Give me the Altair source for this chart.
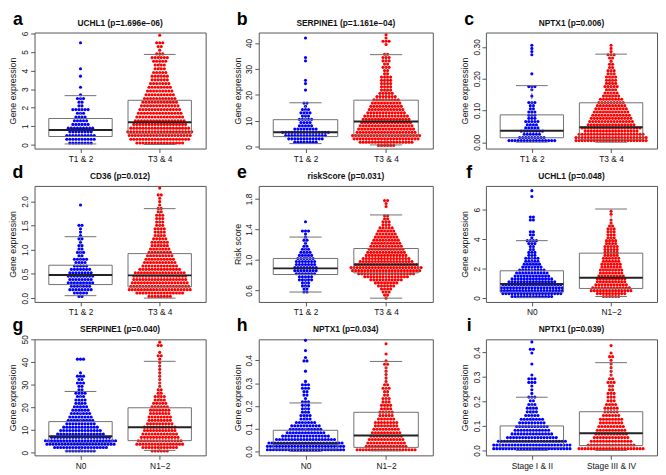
import altair as alt
import pandas as pd

FONT = "Liberation Sans"
BLUE = "#0000FF"
RED = "#FF0000"

# ---------------- panel descriptors ----------------
letters = ["a", "b", "c", "d", "e", "f", "g", "h", "i"]
titles = ["UCHL1 (p=1.696e\u221206)", "SERPINE1 (p=1.161e\u221204)", "NPTX1 (p=0.006)",
          "CD36 (p=0.012)", "riskScore (p=0.031)", "UCHL1 (p=0.048)",
          "SERPINE1 (p=0.040)", "NPTX1 (p=0.034)", "NPTX1 (p=0.039)"]
y_titles = ["Gene expression"] * 4 + ["Risk score"] + ["Gene expression"] * 4
group_names = [("T1 & 2", "T3 & 4")] * 5 + [("N0", "N1\u22122")] * 3 + [("Stage I & II", "Stage III & IV")]
y_domains = [[-0.2, 6.05], [-0.6, 44], [-0.02, 0.345], [-0.08, 2.32], [0.45, 1.97],
             [-0.27, 7.62], [-1.2, 50], [-0.017, 0.492], [-0.02, 0.453]]
y_ticks = [[0, 1, 2, 3, 4, 5, 6], [0, 10, 20, 30, 40], [0, 0.1, 0.2, 0.3], [0, 0.5, 1, 1.5, 2],
           [0.6, 1.0, 1.4, 1.8], [0, 2, 4, 6], [0, 10, 20, 30, 40, 50],
           [0, 0.1, 0.2, 0.3, 0.4], [0, 0.1, 0.2, 0.3, 0.4]]
y_formats = ["d", "d", ".2f", ".1f", ".1f", "d", "d", ".1f", ".1f"]

# value bins (first bin centre, bin step) for the swarm rows
bin_start = [0.1, 0.625, 0.005, 0.035, 0.50, 0.1, 0.75, 0.0075, 0.0075]
bin_step = [0.2, 1.25, 0.01, 0.07, 0.04, 0.2, 1.5, 0.015, 0.015]

# number of dots in each value bin (group 1 = blue, group 2 = red)
a_g1 = [8, 10, 10, 8, 9, 6, 5, 4, 3, 6, 2, 2, 3, 1, 0, 1, 0, 0, 1, 0, 1, 0, 0, 0, 0, 0, 0, 1]
a_g2 = [16, 20, 21, 22, 20, 18, 17, 16, 15, 14, 13, 12, 11, 10, 9, 8, 7, 6, 6, 5, 4, 4, 5, 6, 3, 1, 2, 3, 0, 1]
b_g1 = [0, 8, 12, 14, 16, 8, 5, 4, 5, 3, 4, 3, 1, 2, 0, 0, 0, 1, 0, 1, 1, 0, 0, 0, 0, 0, 1, 1, 0, 0, 0, 0, 0, 1]
b_g2 = [6, 18, 22, 23, 20, 19, 18, 17, 16, 15, 13, 12, 11, 10, 9, 7, 5, 4, 4, 4, 4, 4, 2, 2, 3,
        2, 3, 3, 2, 0, 0, 1, 3, 1, 1]
c_g1 = [16, 9, 6, 8, 5, 4, 5, 3, 3, 3, 2, 2, 3, 0, 1, 0, 1, 3, 0, 0, 0, 1, 0, 0, 0, 0, 0, 1, 1, 1, 1]
c_g2 = [24, 24, 22, 18, 20, 16, 15, 14, 13, 12, 11, 10, 9, 8, 6, 5, 4, 5, 4, 4, 4, 3, 3, 2, 2,
        1, 2, 3, 1, 1, 1]
d_g1 = [2, 5, 8, 7, 9, 8, 9, 8, 7, 5, 4, 5, 2, 3, 2, 2, 1, 2, 1, 1, 1, 2, 0, 0, 0, 0, 0, 1]
d_g2 = [8, 16, 21, 20, 19, 18, 18, 17, 14, 12, 11, 10, 9, 8, 7, 6, 6, 5, 4, 4, 4, 3, 3, 3, 3,
        2, 2, 1, 1, 1, 2, 0, 1]
e_g1 = [0, 0, 2, 2, 3, 3, 5, 5, 7, 8, 8, 7, 7, 6, 5, 4, 3, 2, 1, 2, 1, 1, 3, 0, 0, 1]
e_g2 = [1, 2, 3, 4, 6, 8, 11, 15, 19, 23, 24, 21, 18, 16, 14, 13, 12, 11, 10, 9, 8, 7, 6, 5, 3,
        3, 2, 2, 0, 0, 1, 1, 2]
f_g1 = [14, 20, 21, 21, 20, 16, 14, 12, 11, 9, 7, 6, 5, 5, 3, 3, 2, 2, 3, 4, 1, 2, 2, 0, 0,
        0, 2, 2, 0, 0, 0, 0, 0, 0, 1, 0, 1]
f_g2 = [6, 10, 14, 13, 11, 10, 10, 9, 8, 8, 7, 7, 6, 6, 5, 5, 5, 5, 4, 4, 3, 3, 3, 3, 2, 1, 1, 0, 1, 1]
g_g1 = [10, 18, 23, 24, 20, 16, 14, 12, 10, 9, 8, 7, 6, 5, 4, 4, 3, 4, 2, 2, 3, 2, 3, 1, 0, 0, 0, 3]
g_g2 = [6, 12, 16, 15, 13, 12, 11, 11, 9, 8, 8, 7, 7, 6, 5, 4, 4, 2, 2, 1, 1, 1, 1, 1, 1,
        1, 1, 1, 2, 1, 0, 2, 1]
h_g1 = [26, 26, 25, 20, 16, 13, 11, 10, 7, 4, 4, 3, 3, 3, 3, 1, 2, 2, 3, 3, 1, 0, 0, 1, 0,
        0, 2, 1, 0, 1, 0, 0, 1]
h_g2 = [20, 14, 13, 12, 11, 10, 9, 8, 8, 6, 5, 5, 4, 4, 3, 3, 2, 2, 3, 2, 1, 1, 1, 1, 1, 2, 1, 0, 1, 0, 0, 1]
i_g1 = [26, 26, 23, 17, 14, 12, 11, 9, 8, 5, 4, 4, 3, 2, 3, 1, 1, 1, 3, 3, 1, 0, 0, 1, 0, 0, 1, 2, 0, 1]
i_g2 = [22, 16, 14, 12, 11, 10, 9, 8, 8, 6, 5, 5, 4, 3, 3, 3, 2, 2, 3, 2, 1, 1, 1, 1, 1, 2, 1, 0, 1]
counts = [(a_g1, a_g2), (b_g1, b_g2), (c_g1, c_g2), (d_g1, d_g2), (e_g1, e_g2),
          (f_g1, f_g2), (g_g1, g_g2), (h_g1, h_g2), (i_g1, i_g2)]

# box statistics: [lower whisker, Q1, median, Q3, upper whisker] per group
a_box = [[0.05, 0.45, 0.80, 1.42, 2.65], [0.02, 0.60, 1.22, 2.40, 4.87]]
b_box = [[1.3, 4.0, 5.7, 10.5, 17.0], [0.8, 4.6, 9.8, 18.0, 35.5]]
c_box = [[0.0, 0.014, 0.036, 0.086, 0.178], [0.0, 0.008, 0.047, 0.124, 0.277]]
d_box = [[0.05, 0.28, 0.48, 0.68, 1.27], [0.0, 0.23, 0.47, 0.92, 1.85]]
e_box = [[0.58, 0.81, 0.89, 1.02, 1.30], [0.50, 0.83, 0.94, 1.15, 1.59]]
f_box = [[0.02, 0.40, 0.95, 1.85, 3.90], [0.10, 0.65, 1.38, 3.05, 6.05]]
g_box = [[0.8, 4.5, 7.2, 13.7, 27.0], [1.0, 5.3, 11.2, 19.8, 40.3]]
h_box = [[0.0, 0.012, 0.035, 0.093, 0.213], [0.003, 0.018, 0.070, 0.172, 0.395]]
i_box = [[0.0, 0.012, 0.037, 0.100, 0.217], [0.0, 0.020, 0.070, 0.158, 0.358]]
boxes = [a_box, b_box, c_box, d_box, e_box, f_box, g_box, h_box, i_box]

# ---------------- styling / layout constants ----------------
XMIN, XMAX = 0.42, 2.58
COL_W = [174, 177, 174]
PANEL_H = 118
DOT_PX = 3.1
BOX_HALF = 0.4
CAP_HALF = 0.2
BOX_COLOR = "#6f6f6f"


def panel(idx):
    col = idx % 3
    W = COL_W[col]
    names = group_names[idx]
    label_expr = "datum.value == 1 ? '%s' : '%s'" % names
    dx = DOT_PX * (XMAX - XMIN) / W

    def xenc(field):
        return alt.X(f"{field}:Q",
                     scale=alt.Scale(domain=[XMIN, XMAX], nice=False, zero=False),
                     axis=alt.Axis(values=[1, 2], labelExpr=label_expr, title=None))

    def yenc(field):
        return alt.Y(f"{field}:Q",
                     scale=alt.Scale(domain=y_domains[idx], nice=False, zero=False),
                     axis=alt.Axis(values=y_ticks[idx], format=y_formats[idx], title=y_titles[idx]))

    rows = []
    for g, cnts in enumerate(counts[idx]):
        for k, n in enumerate(cnts):
            val = bin_start[idx] + k * bin_step[idx]
            for j in range(n):
                rows.append({"grp": g + 1, "value": val, "slot": j - (n - 1) / 2})
    pts = pd.DataFrame(rows)

    points = alt.Chart(pts).transform_calculate(
        xpos=f"datum.grp + datum.slot * {dx}"
    ).mark_circle(size=10, opacity=1).encode(
        x=xenc("xpos"), y=yenc("value"),
        color=alt.Color("grp:N", scale=alt.Scale(domain=[1, 2], range=[BLUE, RED]), legend=None),
    )

    st = boxes[idx]
    bdf = pd.DataFrame({
        "grp": [1, 2],
        "lo": [st[0][0], st[1][0]], "q1": [st[0][1], st[1][1]], "med": [st[0][2], st[1][2]],
        "q3": [st[0][3], st[1][3]], "hi": [st[0][4], st[1][4]],
    })
    bbase = alt.Chart(bdf).transform_calculate(
        xl=f"datum.grp - {BOX_HALF}", xr=f"datum.grp + {BOX_HALF}",
        cl=f"datum.grp - {CAP_HALF}", cr=f"datum.grp + {CAP_HALF}",
    )
    rect = bbase.mark_rect(fillOpacity=0, stroke=BOX_COLOR, strokeWidth=1).encode(
        x=xenc("xl"), x2="xr:Q", y=yenc("q1"), y2="q3:Q")
    wh_up = bbase.mark_rule(color=BOX_COLOR, strokeDash=[2, 2], strokeWidth=1).encode(
        x=xenc("grp"), y=yenc("q3"), y2="hi:Q")
    wh_lo = bbase.mark_rule(color=BOX_COLOR, strokeDash=[2, 2], strokeWidth=1).encode(
        x=xenc("grp"), y=yenc("lo"), y2="q1:Q")
    cap_up = bbase.mark_rule(color=BOX_COLOR, strokeWidth=1).encode(
        x=xenc("cl"), x2="cr:Q", y=yenc("hi"))
    cap_lo = bbase.mark_rule(color=BOX_COLOR, strokeWidth=1).encode(
        x=xenc("cl"), x2="cr:Q", y=yenc("lo"))
    med = bbase.mark_rule(color="#222222", strokeWidth=2).encode(
        x=xenc("xl"), x2="xr:Q", y=yenc("med"))

    ttl = alt.Chart(pd.DataFrame({"t": [titles[idx]]})).mark_text(
        font=FONT, fontSize=8.5, fontWeight="bold", align="center", baseline="alphabetic", color="#111"
    ).encode(text="t:N", x=alt.value(W / 2), y=alt.value(-7))
    let = alt.Chart(pd.DataFrame({"t": [letters[idx]]})).mark_text(
        font=FONT, fontSize=18, fontWeight="bold", align="center", baseline="alphabetic", color="#000"
    ).encode(text="t:N", x=alt.value(-17), y=alt.value(-8))

    return alt.layer(points, rect, wh_up, wh_lo, cap_up, cap_lo, med, ttl, let).properties(
        width=W, height=PANEL_H)


rows = [alt.hconcat(*[panel(r * 3 + c) for c in range(3)], spacing=26) for r in range(3)]
chart = alt.vconcat(*rows, spacing=0).properties(
    padding={"left": 0, "top": -2, "right": 0, "bottom": 0}, background="white"
).configure_view(stroke="#555555", strokeWidth=1).configure_axis(
    domain=False, grid=False, ticks=True, tickSize=4, tickColor="#555555",
    labelFont=FONT, labelFontSize=8.5, labelColor="#111111", labelOverlap=False,
    titleFont=FONT, titleFontSize=9, titleFontWeight="normal", titleColor="#111111",
).configure_axisY(
    labelAngle=270, labelAlign="center", labelBaseline="bottom", labelPadding=1, titlePadding=3,
).configure_axisX(labelPadding=2)

chart.save("out.html", embed_options={"renderer": "svg", "actions": False})
